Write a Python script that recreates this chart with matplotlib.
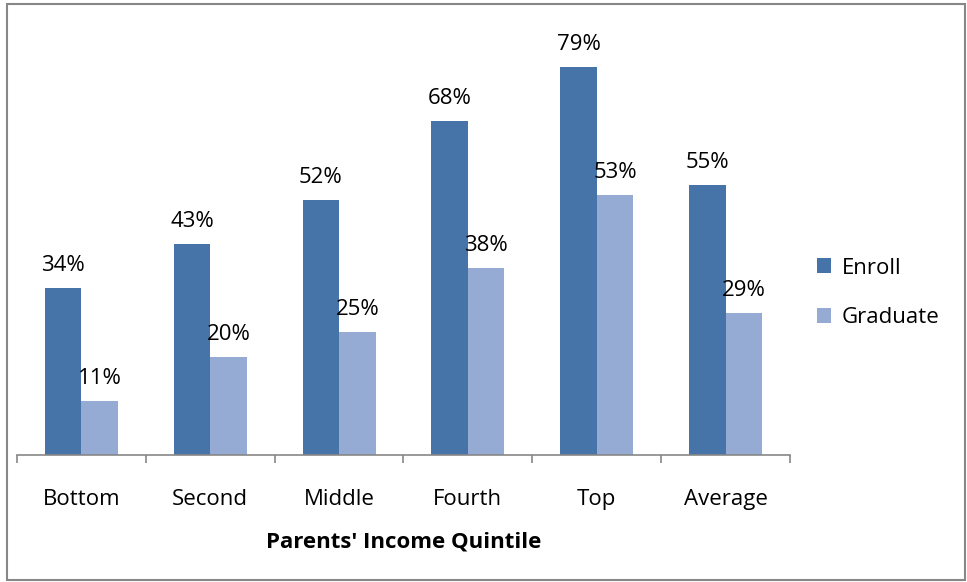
import matplotlib
matplotlib.use("Agg")
import matplotlib.pyplot as plt
from matplotlib.patches import Rectangle
import numpy as np

plt.rcParams["font.family"] = ["Open Sans", "DejaVu Sans"]

# ── 数据 ──────────────────────────────────────────────
quintiles = ["Bottom", "Second", "Middle", "Fourth", "Top", "Average"]
enroll = [34, 43, 52, 68, 79, 55]
graduate = [11, 20, 25, 38, 53, 29]

ENROLL_COLOR = "#4673A8"
GRAD_COLOR = "#95ABD3"
FS = 16

fig = plt.figure(figsize=(9.67, 5.82), dpi=100)
ax = fig.add_axes([17 / 967, 127 / 582, 773 / 967, 432 / 582])

x = np.arange(len(quintiles))
w = 0.283
b1 = ax.bar(x - w / 2, enroll, w, color=ENROLL_COLOR, label="Enroll")
b2 = ax.bar(x + w / 2, graduate, w, color=GRAD_COLOR, label="Graduate")

for bars, vals in [(b1, enroll), (b2, graduate)]:
    for r, v in zip(bars, vals):
        ax.annotate(f"{v}%", (r.get_x() + r.get_width() / 2, v),
                    xytext=(0, 18), textcoords="offset points",
                    ha="center", va="center_baseline", fontsize=FS)

ax.set_xlim(-0.5, len(quintiles) - 0.5)
ax.set_ylim(0, 88)
ax.set_yticks([])
for s in ["top", "right", "left"]:
    ax.spines[s].set_visible(False)
ax.spines["bottom"].set_color("#878787")
ax.spines["bottom"].set_linewidth(1.2)

# 刻度在类别之间
ax.set_xticks(np.arange(len(quintiles) + 1) - 0.5)
ax.set_xticklabels([])
ax.tick_params(axis="x", direction="out", length=6, width=1.2, color="#878787")
for i, name in enumerate(quintiles):
    ax.text(i, -42 / 4.91, name, ha="center", va="center_baseline", fontsize=FS,
            transform=ax.transData)
ax.text(2.5, -85 / 4.91, "Parents' Income Quintile", ha="center", va="center_baseline",
        fontsize=FS, fontweight="bold", transform=ax.transData)

fig.legend(handles=[b1, b2], loc="center left", bbox_to_anchor=(797 / 967, 1 - 293 / 582),
           frameon=False, fontsize=FS, handlelength=0.65, handleheight=0.65,
           handletextpad=0.45, labelspacing=1.3)

# 外框
fig.add_artist(Rectangle((7 / 967, 2 / 582), 958 / 967, 576 / 582,
                         transform=fig.transFigure, fill=False,
                         edgecolor="#878787", linewidth=1.5))

plt.savefig("out.png", dpi=100)
plt.close()
